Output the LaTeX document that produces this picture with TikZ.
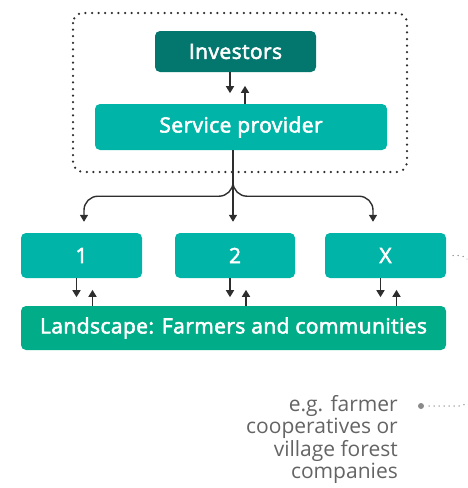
\documentclass[tikz,border=0pt]{standalone}
\usepackage{fontspec}
\setmainfont{Open Sans}
\newfontfamily\boxfont{Open Sans}[FakeBold=2.6,LetterSpace=2]
\newfontfamily\notefont{Open Sans}
\usetikzlibrary{arrows.meta}
\definecolor{darkteal}{HTML}{03766E}
\definecolor{tealbox}{HTML}{00B5A7}
\definecolor{greenbox}{HTML}{00AD88}
\definecolor{arrowc}{HTML}{2E2E2E}
\definecolor{notec}{HTML}{646464}
\definecolor{dotgray}{HTML}{8A8A8A}
\begin{document}
\begin{tikzpicture}[x=1pt,y=-1pt,
  box/.style={rounded corners=5pt, inner sep=0pt, text=white,
    font=\boxfont\fontsize{21}{23}\selectfont},
  arr/.style={draw=arrowc, line width=1.4pt, -{Triangle[length=7pt,width=8pt]}},
  groupline/.style={draw=arrowc, line width=2.5pt, line cap=round,
    dash pattern=on 0pt off 6.6pt, rounded corners=10pt},
  noteline/.style={draw=dotgray, line width=1.5pt, line cap=round,
    dash pattern=on 0pt off 5pt, rounded corners=14pt},
  note/.style={align=right, inner sep=0pt, text=notec,
    font=\notefont\fontsize{21}{22.2}\selectfont}]
\useasboundingbox (0,0) rectangle (467,488);
\clip (0,0) rectangle (467,488);

% group outline
\draw[groupline] (73,13) rectangle (407,172);

% nodes
\node[box, fill=darkteal, minimum width=161pt, minimum height=41pt] (inv) at (235.5,51.5) {Investors};
\node[box, fill=tealbox, minimum width=292pt, minimum height=46pt] (sp) at (241,127) {Service provider};
\node[box, fill=tealbox, minimum width=121pt, minimum height=45pt] (b1) at (81.5,255.5) {1};
\node[box, fill=tealbox, minimum width=120pt, minimum height=45pt] (b2) at (235,255.5) {2};
\node[box, fill=tealbox, minimum width=121pt, minimum height=45pt] (bx) at (385.5,255.5) {X};
\node[box, fill=greenbox, minimum width=425pt, minimum height=44pt] (land) at (233.5,328) {Landscape: Farmers and communities};

% investors <-> service provider
\draw[arr] ([xshift=-5.5pt]inv.south) -- ++(0,21);
\draw[arr] ([xshift=4pt]sp.north) -- ++(0,-18);

% branching from service provider
\draw[arr, rounded corners=14pt] ([xshift=-8pt]sp.south) -- ++(0,46) -| ([xshift=2.5pt,yshift=11pt]b1.north);
\draw[arr, rounded corners=14pt] ([xshift=-8pt]sp.south) -- ++(0,46) -| ([xshift=-12.5pt,yshift=11pt]bx.north);
\draw[arr] ([xshift=-8pt]sp.south) -- ([xshift=-2pt,yshift=11pt]b2.north);

% boxes <-> landscape
\foreach \b in {b1,b2,bx}{
  \draw[arr] ([xshift=-5pt]\b.south) -- ++(0,19);
  \draw[arr] ([xshift=11pt]\b.south |- land.north) -- ++(0,-16);
}

% annotation
\node[circle, fill=dotgray, inner sep=0pt, minimum size=6pt] (dot) at (421,406) {};
\node[note, anchor=north east] (txt) at (398,395.5) {e.g. farmer\\cooperatives or\\village forest\\companies};
\coordinate (xr) at ([xshift=7pt]bx.east);
\draw[noteline] (xr) -- (472,255.5) -- (472,406) -- (dot);
\end{tikzpicture}
\end{document}
